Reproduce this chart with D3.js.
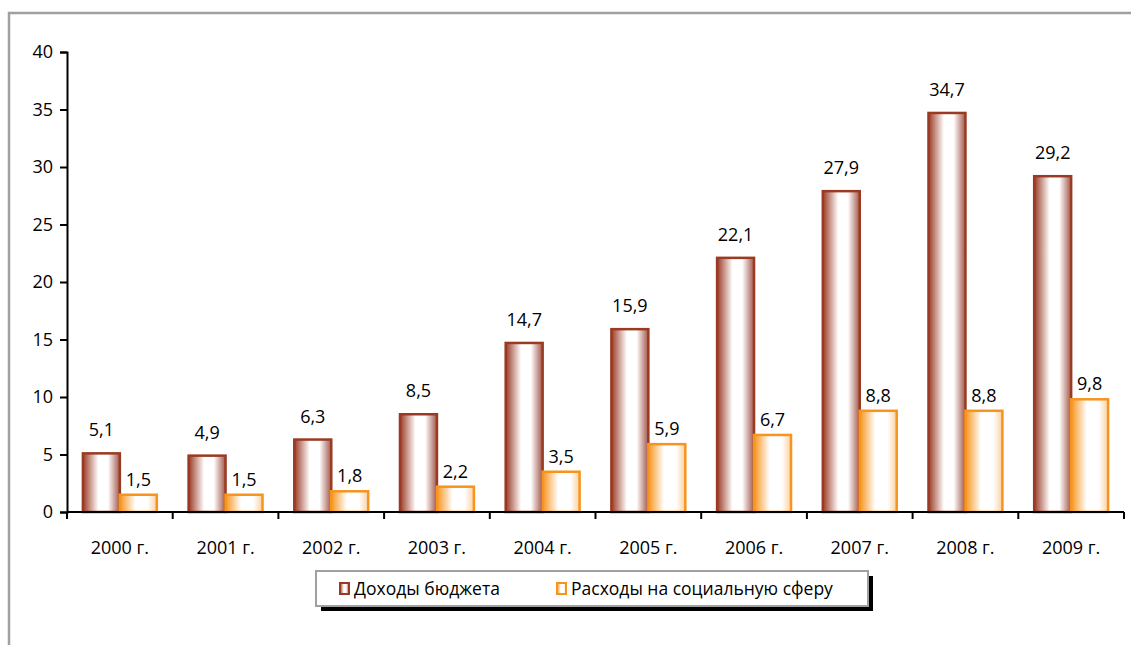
<!DOCTYPE html>
<html>
<head>
<meta charset="utf-8">
<script src="https://cdn.jsdelivr.net/npm/d3@7"></script>
<style>
  html, body { margin: 0; padding: 0; background: #fff; }
  svg text { font-family: "Open Sans", "Noto Sans", sans-serif; fill: #000; }
</style>
</head>
<body>
<div id="chart"></div>
<script>
// chart data
var years = ["2000 г.", "2001 г.", "2002 г.", "2003 г.", "2004 г.", "2005 г.", "2006 г.", "2007 г.", "2008 г.", "2009 г."];
var income = [5.1, 4.9, 6.3, 8.5, 14.7, 15.9, 22.1, 27.9, 34.7, 29.2];
var social = [1.5, 1.5, 1.8, 2.2, 3.5, 5.9, 6.7, 8.8, 8.8, 9.8];
var seriesNames = ["Доходы бюджета", "Расходы на социальную сферу"];
var yTicks = [0, 5, 10, 15, 20, 25, 30, 35, 40];

(function() {
    var W = 1131, H = 645;
    var svg = d3.select("#chart").append("svg")
        .attr("width", W)
        .attr("height", H);

    // gradients for the cylinder-ish bars
    var defs = svg.append("defs");
    function grad(id, stops) {
        var g = defs.append("linearGradient").attr("id", id)
            .attr("x1", "0%").attr("x2", "100%").attr("y1", "0%").attr("y2", "0%");
        stops.forEach(function(s) {
            g.append("stop").attr("offset", s[0]).attr("stop-color", s[1]);
        });
    }
    grad("gBrown", [["0%", "#9a3a26"], ["42%", "#ffffff"], ["68%", "#ffffff"], ["100%", "#a1574a"]]);
    grad("gOrange", [["0%", "#f7941d"], ["42%", "#ffffff"], ["75%", "#ffffff"], ["100%", "#fbd0a0"]]);

    var colors = [
        { fill: "url(#gBrown)", stroke: "#9a3a22", labelGap: 17 },
        { fill: "url(#gOrange)", stroke: "#f7941d", labelGap: 9 }
    ];

    // outer frame
    svg.append("rect")
        .attr("x", 9).attr("y", 13)
        .attr("width", W + 50).attr("height", H + 50)
        .attr("fill", "none")
        .attr("stroke", "#a0a0a0")
        .attr("stroke-width", 2.5);

    var mLeft = 67, mRight = 1124, mTop = 52, mBottom = 512;

    var x = d3.scaleBand().domain(years).range([mLeft, mRight]).paddingInner(0).paddingOuter(0);
    var xs = d3.scaleBand().domain([0, 1]).range([0, x.bandwidth()]).paddingInner(0).paddingOuter(0.43);
    var y = d3.scaleLinear().domain([0, 40]).range([mBottom, mTop]);

    // bars
    var series = [income, social];
    series.forEach(function(vals, si) {
        var g = svg.append("g");
        g.selectAll("rect").data(vals).enter().append("rect")
            .attr("x", function(d, i) { return x(years[i]) + xs(si); })
            .attr("y", function(d) { return y(d); })
            .attr("width", xs.bandwidth())
            .attr("height", function(d) { return y(0) - y(d); })
            .attr("fill", colors[si].fill)
            .attr("stroke", colors[si].stroke)
            .attr("stroke-width", 2.5);
        g.selectAll("text").data(vals).enter().append("text")
            .attr("x", function(d, i) { return x(years[i]) + xs(si) + xs.bandwidth() / 2; })
            .attr("y", function(d) { return y(d) - colors[si].labelGap; })
            .attr("text-anchor", "middle")
            .style("font-size", "18px")
            .text(function(d) { return String(d).replace(".", ","); });
    });

    // y axis
    var yAxis = d3.axisLeft(y).tickValues(yTicks).tickSize(7).tickPadding(7).tickFormat(d3.format("d"));
    var yg = svg.append("g").attr("transform", "translate(" + mLeft + ",0)").call(yAxis);
    yg.selectAll("text").style("font-size", "18px");
    yg.select(".domain").attr("stroke-width", 2);
    yg.selectAll(".tick line").attr("stroke-width", 2);

    // x axis: ticks between categories
    var xg = svg.append("g").attr("transform", "translate(0," + mBottom + ")");
    xg.append("line").attr("x1", mLeft).attr("x2", mRight).attr("stroke", "#000").attr("stroke-width", 2);
    var bounds = years.map(function(d) { return x(d); }).concat([mRight]);
    xg.selectAll("line.tk").data(bounds).enter().append("line")
        .attr("class", "tk")
        .attr("x1", function(d) { return d; }).attr("x2", function(d) { return d; })
        .attr("y1", 0).attr("y2", 7)
        .attr("stroke", "#000").attr("stroke-width", 2);
    xg.selectAll("text").data(years).enter().append("text")
        .attr("x", function(d) { return x(d) + x.bandwidth() / 2; })
        .attr("y", 42)
        .attr("text-anchor", "middle")
        .style("font-size", "18px")
        .text(function(d) { return d; });

    // legend
    var lg = svg.append("g").attr("transform", "translate(316,571)");
    lg.append("rect").attr("x", 5).attr("y", 5).attr("width", 552).attr("height", 35).attr("fill", "#000");
    lg.append("rect").attr("width", 552).attr("height", 35).attr("fill", "#fff")
        .attr("stroke", "#a0a0a0").attr("stroke-width", 2);
    var legX = [24, 241];
    seriesNames.forEach(function(name, i) {
        lg.append("rect")
            .attr("x", legX[i]).attr("y", 12)
            .attr("width", 9).attr("height", 11)
            .attr("fill", colors[i].fill)
            .attr("stroke", colors[i].stroke).attr("stroke-width", 2);
        lg.append("text")
            .attr("x", legX[i] + 14).attr("y", 24)
            .style("font-size", "17.5px")
            .text(name);
    });
})();
</script>
</body>
</html>
